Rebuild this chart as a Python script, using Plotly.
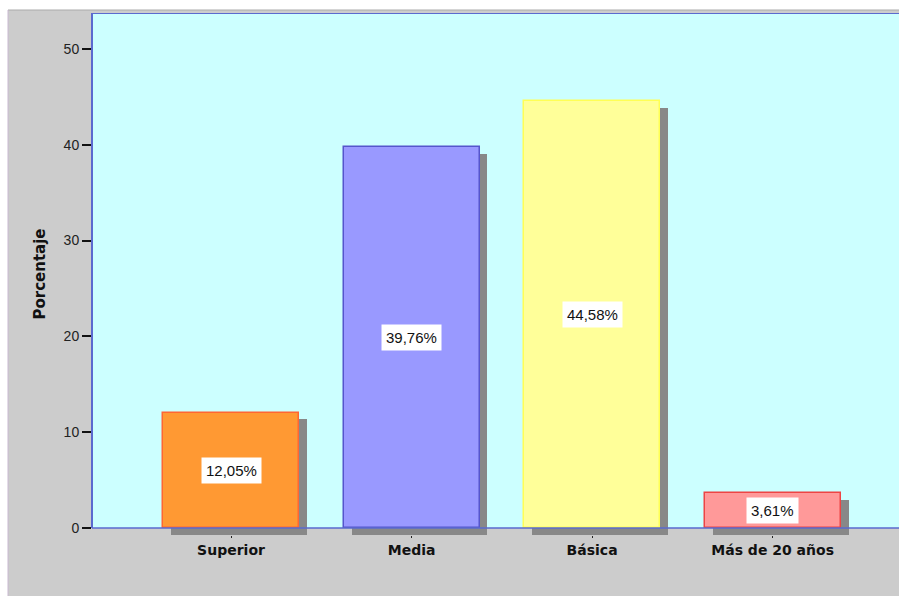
import plotly.graph_objects as go

# Education level distribution (percent)
categories = ["Superior", "Media", "Básica", "Más de 20 años"]
percentages = [12.05, 39.76, 44.58, 3.61]
value_labels = ["12,05%", "39,76%", "44,58%", "3,61%"]
y_ticks = [0, 10, 20, 30, 40, 50]

fill_colors = ["#FF9933", "#9999FF", "#FFFF99", "#FF9999"]
edge_colors = ["#FF6633", "#5555CC", "#FFFF55", "#EE4444"]

BAR_WIDTH = 0.753
SHADOW_DX = 0.044      # shadow shift to the right, category units
SHADOW_DY = 0.7        # shadow shift downward, value units
Y_MIN, Y_MAX = -0.73, 53.75
AXIS_BLUE = "#5A6ACF"
W, H = 899, 596

fig = go.Figure()

# drop shadows behind each bar
fig.add_trace(go.Bar(
    x=categories,
    y=percentages,
    base=[-SHADOW_DY] * len(percentages),
    width=BAR_WIDTH,
    offset=-BAR_WIDTH / 2 + SHADOW_DX,
    marker=dict(color="#888888", line=dict(width=0)),
    hoverinfo="skip",
    showlegend=False,
))

# main bars
fig.add_trace(go.Bar(
    x=categories,
    y=percentages,
    width=BAR_WIDTH,
    offset=-BAR_WIDTH / 2,
    marker=dict(color=fill_colors, line=dict(color=edge_colors, width=1.5)),
    showlegend=False,
))

# value labels in white boxes at mid-height of each bar
for cat, val, lab in zip(categories, percentages, value_labels):
    fig.add_annotation(
        x=cat, y=val / 2, text=lab, showarrow=False,
        bgcolor="white", borderpad=4,
        font=dict(family="Arial, Liberation Sans", size=15, color="#111111"),
    )

shapes = [
    # white margin strips at the top and left of the grey canvas
    dict(type="rect", xref="paper", yref="paper",
         x0=-92 / (W - 92), x1=1.1, y0=1 + 3 / (H - 74), y1=1.1,
         fillcolor="white", line=dict(width=0)),
    dict(type="rect", xref="paper", yref="paper",
         x0=-92 / (W - 92) - 0.01, x1=-84 / (W - 92), y0=-0.2, y1=1.1,
         fillcolor="white", line=dict(width=0)),
    # thin frame lines of the canvas
    dict(type="line", xref="paper", yref="paper",
         x0=-84 / (W - 92), x1=1.1, y0=1 + 3 / (H - 74), y1=1 + 3 / (H - 74),
         line=dict(color="#AAAAAA", width=1)),
    dict(type="line", xref="paper", yref="paper",
         x0=-84 / (W - 92), x1=-84 / (W - 92), y0=-0.2, y1=1 + 3 / (H - 74),
         line=dict(color="#C8B8D0", width=1)),
    # strip below the baseline kept grey
    dict(type="rect", xref="x domain", yref="y",
         x0=0, x1=1, y0=Y_MIN - 1, y1=0,
         fillcolor="#CCCCCC", line=dict(width=0), layer="below"),
    # plot frame: baseline, left and top edges
    dict(type="line", xref="x domain", yref="y", x0=0, x1=1, y0=0, y1=0,
         line=dict(color=AXIS_BLUE, width=1.5)),
    dict(type="line", xref="x domain", yref="y", x0=0, x1=0, y0=0, y1=Y_MAX,
         line=dict(color=AXIS_BLUE, width=2)),
    dict(type="line", xref="x domain", yref="y", x0=0, x1=1, y0=Y_MAX, y1=Y_MAX,
         line=dict(color=AXIS_BLUE, width=2)),
]

fig.update_layout(
    width=W, height=H,
    margin=dict(l=92, r=0, t=13, b=61),
    paper_bgcolor="#CCCCCC",
    plot_bgcolor="#CCFFFF",
    barmode="overlay",
    bargap=0,
    shapes=shapes,
    xaxis=dict(
        type="category",
        range=[-0.77, 3.70],
        showgrid=False, zeroline=False, showline=False,
        ticks="outside", ticklen=2, tickcolor="#222222", tickwidth=1,
        tickfont=dict(family="DejaVu Sans", size=14, color="#111111",
                      weight="bold"),
    ),
    yaxis=dict(
        range=[Y_MIN, Y_MAX],
        tickvals=y_ticks,
        showgrid=False, zeroline=False, showline=False,
        ticks="outside", ticklen=9, tickcolor="#111111", tickwidth=1.5,
        tickfont=dict(family="Arial, Liberation Sans", size=14, color="#222222"),
        title=dict(text="<b>Porcentaje</b>", standoff=14,
                   font=dict(family="DejaVu Sans", size=15, color="#111111")),
    ),
)

fig.write_html("out.html")
